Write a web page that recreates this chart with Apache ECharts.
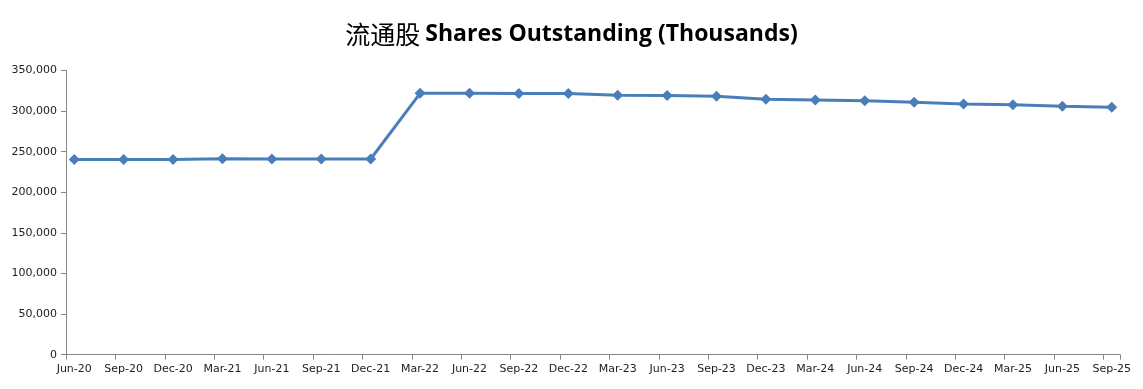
<!DOCTYPE html>
<html>
<head>
<meta charset="utf-8">
<script src="https://cdn.jsdelivr.net/npm/echarts@6/dist/echarts.min.js"></script>
<style>
  html, body { margin: 0; padding: 0; background: #fff; }
  #chart { width: 1143px; height: 389px; }
</style>
</head>
<body>
<div id="chart"></div>
<script>
// Quarter-end labels and shares outstanding (thousands)
const quarters = ['Jun-20','Sep-20','Dec-20','Mar-21','Jun-21','Sep-21','Dec-21',
  'Mar-22','Jun-22','Sep-22','Dec-22','Mar-23','Jun-23','Sep-23','Dec-23',
  'Mar-24','Jun-24','Sep-24','Dec-24','Mar-25','Jun-25','Sep-25'];
const shares = [240300, 240300, 240300, 241200, 241000, 240900, 241000,
  321900, 321900, 321700, 321600, 319500, 319200, 318200, 314500,
  313700, 312800, 310800, 308700, 307900, 305900, 304700];
const yTicks = [0, 50000, 100000, 150000, 200000, 250000, 300000, 350000];

// Monthly date axis (like a date axis with month base unit): quarters at every 3rd month
const monthCats = [];
const monthVals = [];
quarters.forEach((q, i) => {
  monthCats.push(q);
  monthVals.push(shares[i]);
  if (i < quarters.length - 1) {
    monthCats.push(q + '#1', q + '#2');
    monthVals.push(null, null);
  }
});

const chart = echarts.init(document.getElementById('chart'));
chart.setOption({
  backgroundColor: '#ffffff',
  animation: false,
  title: {
    left: 'center',
    top: 17,
    text: '{cn|流通股} {en|Shares Outstanding (Thousands)}',
    textStyle: {
      rich: {
        cn: { fontFamily: 'Noto Sans CJK SC', fontWeight: 'normal', fontSize: 25, color: '#000' },
        en: { fontFamily: 'Open Sans', fontWeight: 'bold', fontSize: 23, color: '#000' }
      }
    }
  },
  grid: { left: 66, right: 23, top: 70.5, bottom: 34.3, containLabel: false },
  xAxis: {
    type: 'category',
    data: monthCats,
    boundaryGap: true,
    axisLine: { show: true, lineStyle: { color: '#868686', width: 1 } },
    axisTick: { show: true, interval: (idx) => idx % 3 === 0, alignWithLabel: false, length: 5, lineStyle: { color: '#868686' } },
    axisLabel: {
      interval: 2,
      margin: 9,
      color: '#222',
      fontFamily: 'DejaVu Sans',
      fontSize: 11
    },
    splitLine: { show: false }
  },
  yAxis: {
    type: 'value',
    min: yTicks[0],
    max: yTicks[yTicks.length - 1],
    interval: yTicks[1] - yTicks[0],
    axisLine: { show: true, lineStyle: { color: '#868686', width: 1 } },
    axisTick: { show: true, length: 5, lineStyle: { color: '#868686' } },
    axisLabel: {
      margin: 9,
      color: '#222',
      fontFamily: 'DejaVu Sans',
      fontSize: 11,
      formatter: v => v.toLocaleString('en-US')
    },
    splitLine: { show: false }
  },
  series: [{
    type: 'line',
    data: monthVals,
    connectNulls: true,
    symbol: 'diamond',
    symbolSize: 11,
    showSymbol: true,
    lineStyle: { color: '#4A7EBB', width: 3 },
    itemStyle: { color: '#4A7EBB' }
  }]
});
</script>
</body>
</html>
